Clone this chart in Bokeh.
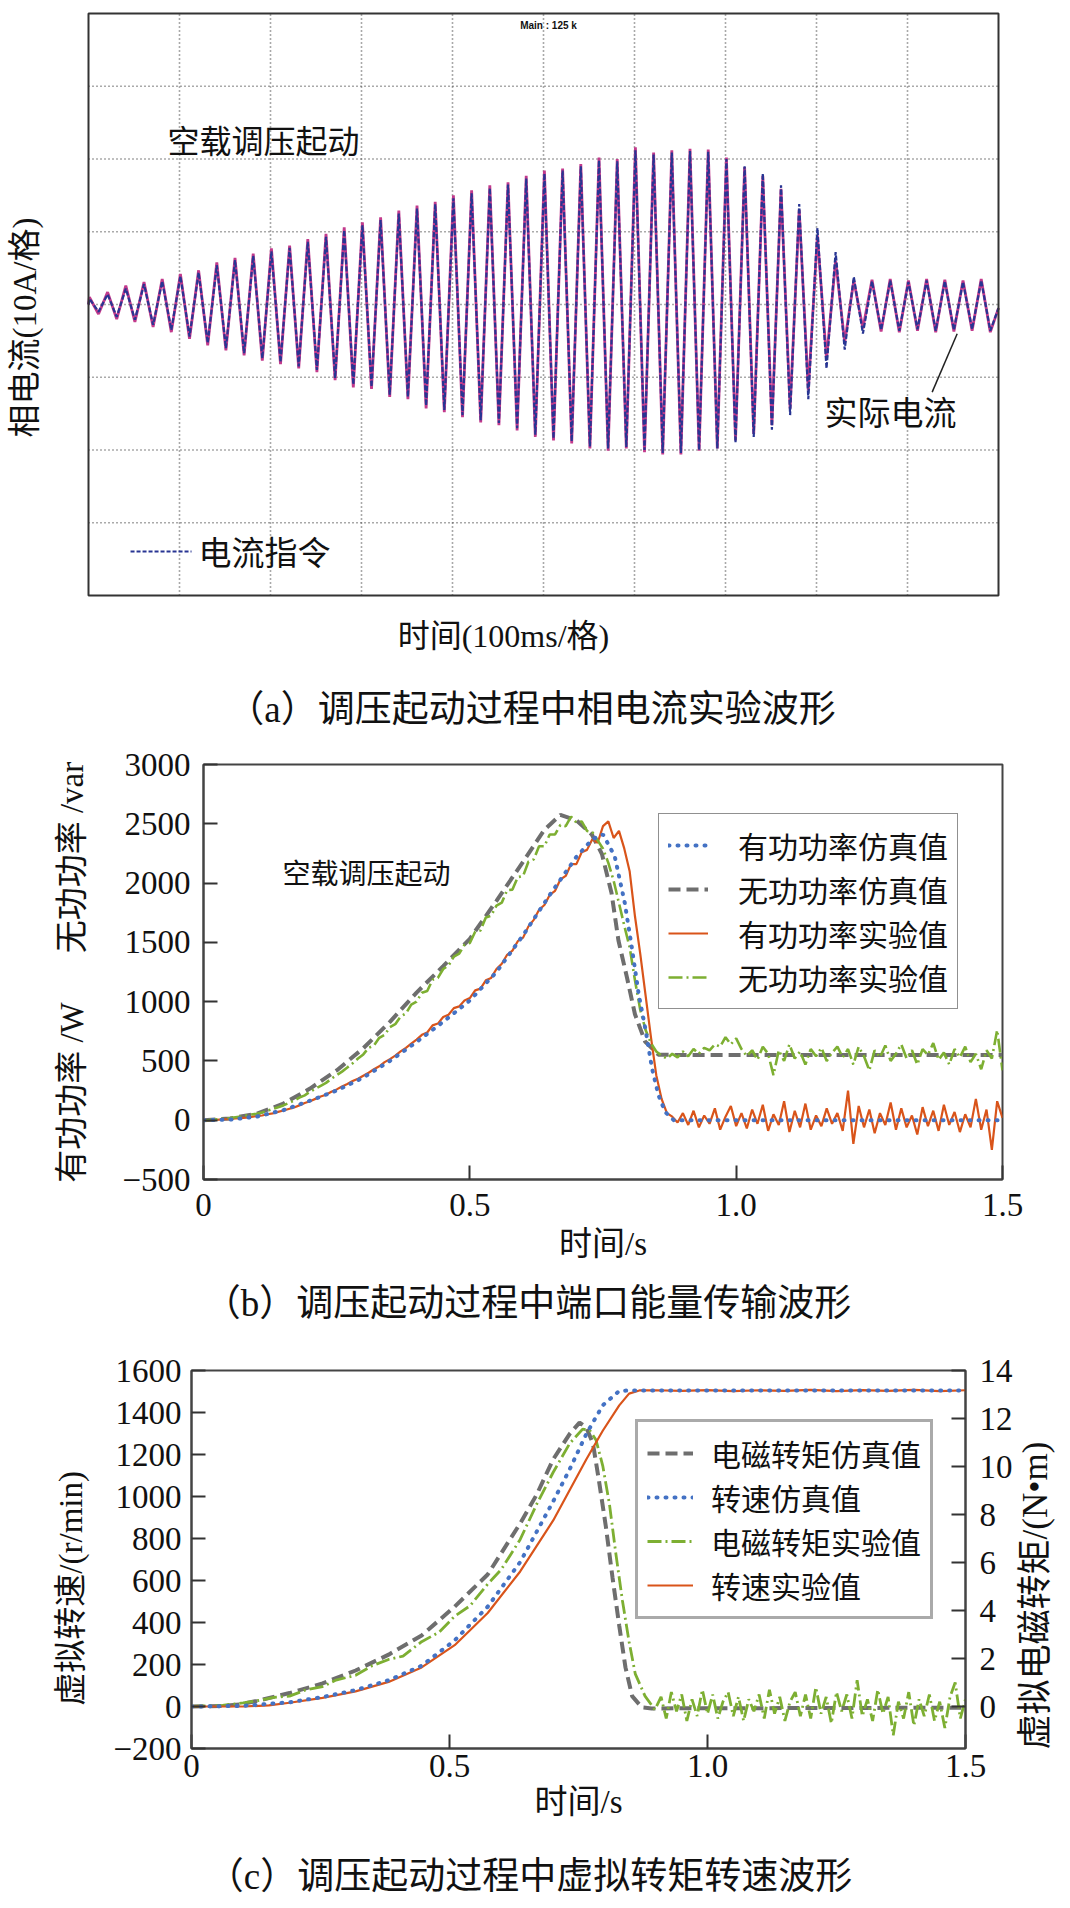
import math
from bokeh.plotting import figure
from bokeh.models import Range1d, LinearAxis, FixedTicker, Label, Legend, LegendItem, Arrow
from bokeh.layouts import row
from bokeh.embed import file_html
from bokeh.resources import INLINE

FONT = "Liberation Serif, Noto Sans CJK SC"

# ---------------- (a) phase current oscilloscope capture (units: divisions, 10 A/div) ----------------
a_peak_times_ms = list(range(1, 1000, 20))
a_trough_times_ms = list(range(11, 1000, 20))
a_peak_actual = [0.10, 0.17, 0.26, 0.31, 0.35, 0.42, 0.47, 0.58, 0.64, 0.70,
                 0.77, 0.81, 0.90, 0.97, 1.06, 1.13, 1.20, 1.29, 1.36, 1.41,
                 1.50, 1.57, 1.64, 1.68, 1.77, 1.84, 1.87, 1.93, 2.02, 2.00,
                 2.16, 2.09, 2.12, 2.14, 2.13, 2.02, 1.89, 1.77, 1.59, 1.30,
                 0.95, 0.60, 0.33, 0.34, 0.35, 0.33, 0.35, 0.34, 0.33, 0.35]
a_trough_actual = [-0.13, -0.20, -0.24, -0.31, -0.38, -0.47, -0.56, -0.63, -0.70, -0.77,
                   -0.82, -0.88, -0.93, -1.04, -1.14, -1.16, -1.27, -1.30, -1.43, -1.48,
                   -1.55, -1.62, -1.66, -1.73, -1.82, -1.87, -1.91, -1.98, -2.01, -1.98,
                   -2.03, -2.06, -2.06, -2.01, -1.98, -1.87, -1.78, -1.66, -1.43, -1.18,
                   -0.75, -0.52, -0.33, -0.37, -0.38, -0.36, -0.38, -0.37, -0.36, -0.38]
a_peak_cmd = [0.08, 0.14, 0.22, 0.28, 0.32, 0.39, 0.44, 0.54, 0.61, 0.67,
              0.73, 0.78, 0.86, 0.93, 1.02, 1.09, 1.16, 1.25, 1.32, 1.38,
              1.46, 1.53, 1.60, 1.65, 1.73, 1.80, 1.84, 1.90, 1.98, 1.97,
              2.12, 2.06, 2.09, 2.11, 2.10, 2.00, 1.90, 1.80, 1.64, 1.38,
              1.05, 0.72, 0.38, 0.32, 0.33, 0.31, 0.33, 0.32, 0.31, 0.33]
a_trough_cmd = [-0.10, -0.17, -0.21, -0.28, -0.35, -0.44, -0.53, -0.60, -0.67, -0.74,
                -0.79, -0.85, -0.90, -1.01, -1.10, -1.13, -1.24, -1.27, -1.39, -1.45,
                -1.52, -1.59, -1.63, -1.70, -1.79, -1.84, -1.88, -1.95, -1.98, -1.96,
                -2.00, -2.04, -2.04, -2.00, -1.98, -1.90, -1.82, -1.72, -1.52, -1.30,
                -0.88, -0.62, -0.40, -0.35, -0.36, -0.34, -0.36, -0.35, -0.34, -0.36]
a_edge_times_ms = [0, 1000]
a_edge_values = [0.0, -0.05]
a_screen_x_ms = [0, 1000]          # oscilloscope screen: 10 div x 100 ms
a_screen_y_div = [-4, 4]           # 8 div
a_grid_x_ms = [100, 200, 300, 400, 500, 600, 700, 800, 900]
a_grid_y_div = [-3, -2, -1, 0, 1, 2, 3]

# ---------------- (b) port power ----------------
b_t_sim = [0, 0.05, 0.1, 0.15, 0.2, 0.25, 0.3, 0.35, 0.4, 0.45, 0.5, 0.55, 0.6, 0.65, 0.7,
           0.73, 0.75, 0.772, 0.791, 0.804, 0.817, 0.83, 0.842, 0.854, 0.867, 0.883,
           0.95, 1.0, 1.1, 1.2, 1.3, 1.4, 1.5]
b_active_sim = [0, 5, 30, 85, 165, 250, 360, 500, 660, 830, 1010, 1250, 1560, 1900, 2220,
                2370, 2410, 2226, 1830, 1460, 1063, 760, 437, 213, 68, 0,
                0, 0, 0, 0, 0, 0, 0]
b_t_sim_q = [0, 0.05, 0.1, 0.15, 0.2, 0.25, 0.3, 0.35, 0.4, 0.45, 0.5, 0.55, 0.6, 0.64,
             0.67, 0.70, 0.729, 0.748, 0.766, 0.779, 0.795, 0.81, 0.829, 0.854, 0.9, 1.5]
b_reactive_sim = [0, 15, 54, 140, 267, 420, 607, 830, 1076, 1300, 1530, 1850, 2180, 2450,
                  2575, 2530, 2410, 2245, 1916, 1516, 1204, 894, 664, 553, 550, 550]
b_t_exp = [i / 100 for i in range(151)]
b_active_exp = [0, 0, 2, 5, 8, 10, 15, 18, 22, 28,
                35, 40, 50, 58, 70, 82, 95, 108, 125, 145,
                160, 180, 200, 215, 240, 260, 285, 305, 330, 350,
                375, 400, 430, 455, 490, 515, 545, 580, 610, 645,
                680, 720, 740, 800, 815, 870, 890, 945, 960, 1010,
                1030, 1095, 1110, 1180, 1200, 1275, 1320, 1395, 1430, 1510,
                1540, 1635, 1690, 1775, 1815, 1900, 1935, 2030, 2060, 2160,
                2160, 2260, 2280, 2370, 2340, 2480, 2520, 2380, 2440, 2290,
                2100, 1720, 1400, 1050, 700, 380, 180, 60, 30, -20,
                60, -40, 80, -60, 40, -30, 100, -80, 30, 120,
                -50, 60, -70, 90, -30, 130, -90, 50, -40, 160,
                -100, 80, -60, 140, -80, 40, -50, 100, -30, 60,
                -90, 250, -200, 120, -60, 90, -110, 60, -40, 150,
                -80, 100, -60, 40, -120, 110, -50, 80, -90, 130,
                -40, 70, -100, 50, -60, 180, -80, 90, -250, 160,
                20]
b_reactive_exp = [0, 2, 5, 10, 15, 18, 25, 32, 40, 48,
                  55, 65, 80, 95, 110, 125, 145, 165, 190, 210,
                  240, 265, 290, 315, 350, 380, 410, 445, 480, 520,
                  555, 610, 630, 695, 720, 785, 810, 875, 900, 975,
                  1000, 1075, 1090, 1185, 1200, 1275, 1305, 1380, 1405, 1480,
                  1495, 1590, 1600, 1710, 1725, 1810, 1835, 1940, 1945, 2050,
                  2060, 2180, 2200, 2310, 2310, 2410, 2410, 2490, 2480, 2560,
                  2510, 2520, 2440, 2430, 2360, 2290, 2170, 2020, 1830, 1640,
                  1460, 1180, 930, 760, 650, 580, 545, 520, 560, 530,
                  580, 540, 600, 560, 610, 590, 640, 620, 700, 640,
                  690, 600, 540, 590, 510, 620, 560, 380, 590, 500,
                  640, 520, 580, 470, 600, 540, 610, 500, 570, 620,
                  530, 600, 470, 620, 540, 420, 590, 530, 630, 500,
                  560, 640, 520, 590, 470, 600, 550, 650, 510, 570,
                  470, 600, 530, 620, 490, 560, 430, 590, 520, 760,
                  420]
b_yticks = [-500, 0, 500, 1000, 1500, 2000, 2500, 3000]
b_xticks = [0, 0.5, 1, 1.5]
b_legend_labels = ["有功功率仿真值", "无功功率仿真值", "有功功率实验值", "无功功率实验值"]

# ---------------- (c) virtual torque / speed ----------------
c_t_speed_sim = [0, 0.1, 0.19, 0.254, 0.318, 0.382, 0.446, 0.51, 0.574, 0.637, 0.701,
                 0.733, 0.765, 0.797, 0.829, 0.85, 1.5]
c_speed_sim = [0, 3, 20, 45, 78, 125, 194, 315, 475, 688, 977,
               1130, 1297, 1434, 1503, 1505, 1505]
c_t_speed_exp = [0, 0.1, 0.15, 0.19, 0.254, 0.318, 0.382, 0.446, 0.51, 0.574, 0.637,
                 0.701, 0.733, 0.765, 0.797, 0.829, 0.848, 0.868, 0.9, 0.95, 1.0, 1.05,
                 1.1, 1.15, 1.2, 1.25, 1.3, 1.35, 1.4, 1.45, 1.5]
c_speed_exp = [0, 0, 5, 18, 41, 72, 117, 186, 292, 445, 643,
               886, 1031, 1176, 1313, 1434, 1490, 1505, 1506, 1503, 1507, 1502,
               1506, 1503, 1508, 1502, 1507, 1503, 1508, 1502, 1506]
c_t_torque_sim = [0, 0.06, 0.094, 0.126, 0.19, 0.254, 0.318, 0.382, 0.446, 0.51, 0.574,
                  0.637, 0.669, 0.701, 0.733, 0.752, 0.765, 0.778, 0.79, 0.803, 0.816,
                  0.829, 0.841, 0.854, 0.873, 0.892, 1.5]
c_torque_sim = [0, 0.02, 0.09, 0.23, 0.56, 0.96, 1.5, 2.16, 2.96, 4.16, 5.5,
                7.63, 8.83, 10.3, 11.36, 11.83, 11.63, 10.96, 9.36, 7.5, 5.36,
                3.36, 1.63, 0.43, -0.04, -0.08, -0.05]
c_t_torque_exp = [0, 0.06, 0.1, 0.13, 0.16, 0.19, 0.22, 0.254, 0.28, 0.318, 0.35, 0.382,
                  0.41, 0.446, 0.48, 0.51, 0.54, 0.574, 0.6, 0.637, 0.669, 0.701, 0.733,
                  0.758, 0.772, 0.784, 0.797, 0.81, 0.822, 0.835, 0.848, 0.86, 0.879, 0.898,
                  0.91, 0.92, 0.93, 0.94, 0.95, 0.96, 0.97, 0.98, 0.99, 1.0,
                  1.01, 1.02, 1.03, 1.04, 1.05, 1.06, 1.07, 1.08, 1.09, 1.1,
                  1.11, 1.12, 1.13, 1.14, 1.15, 1.16, 1.17, 1.18, 1.19, 1.2,
                  1.21, 1.22, 1.23, 1.24, 1.25, 1.26, 1.27, 1.28, 1.29, 1.3,
                  1.31, 1.32, 1.33, 1.34, 1.35, 1.36, 1.37, 1.38, 1.39, 1.4,
                  1.41, 1.42, 1.43, 1.44, 1.45, 1.46, 1.47, 1.48, 1.49, 1.5]
c_torque_exp = [0, 0.05, 0.15, 0.25, 0.38, 0.43, 0.68, 0.83, 1.1, 1.3, 1.7, 1.96,
                2.1, 2.7, 3.1, 3.76, 4.2, 5.1, 5.7, 6.96, 8.43, 9.76, 10.96,
                11.56, 11.5, 11.1, 10.03, 8.43, 6.43, 4.43, 2.7, 1.36, 0.43, -0.13,
                0.4, -0.5, 0.6, -0.2, 0.5, -0.6, 0.3, -0.4, 0.7, -0.3,
                0.5, -0.5, 0.2, 0.6, -0.4, 0.4, -0.6, 0.3, -0.2, 0.5,
                -0.5, 0.7, -0.3, 0.4, -0.6, 0.2, 0.6, -0.4, 0.5, -0.5,
                0.8, -0.3, 0.4, -0.7, 0.6, -0.2, 0.5, -0.5, 1.1, -0.4,
                0.3, -0.6, 0.7, -0.3, 0.4, -1.2, 0.2, -0.5, 0.6, -0.8,
                0.3, -0.4, 0.5, -0.6, 0.2, -0.9, 0.4, 1.0, -0.5, 0.3]
c_speed_ticks = [-200, 0, 200, 400, 600, 800, 1000, 1200, 1400, 1600]
c_torque_ticks = [0, 2, 4, 6, 8, 10, 12, 14]
c_xticks = [0, 0.5, 1, 1.5]
c_legend_labels = ["电磁转矩仿真值", "转速仿真值", "电磁转矩实验值", "转速实验值"]

captions = ["（a）调压起动过程中相电流实验波形",
            "（b）调压起动过程中端口能量传输波形",
            "（c）调压起动过程中虚拟转矩转速波形"]

# colours / styles
C_BLUE = "#4472C4"
C_GRAY = "#6E6E6E"
C_ORANGE = "#D9541A"
C_GREEN = "#7DAF32"
TXT = "#111111"
PAGE_W = 1070


def style_axis(ax, standoff, label_standoff=10):
    ax.major_tick_in = 14
    ax.major_tick_out = 0
    ax.minor_tick_line_color = None
    ax.major_tick_line_width = 2
    ax.major_tick_line_color = "#333333"
    ax.axis_line_width = 2
    ax.axis_line_color = "#444444"
    ax.major_label_text_font = FONT
    ax.major_label_text_font_size = "33px"
    ax.major_label_text_color = TXT
    ax.major_label_standoff = standoff
    ax.axis_label_text_font = FONT
    ax.axis_label_text_font_size = "33px"
    ax.axis_label_text_font_style = "normal"
    ax.axis_label_text_color = TXT
    ax.axis_label_standoff = label_standoff


def style_legend(leg, size, glyph_w, standoff):
    leg.label_text_font = FONT
    leg.label_text_font_size = size
    leg.label_text_color = TXT
    leg.glyph_width = glyph_w
    leg.glyph_height = 30
    leg.label_height = 30
    leg.label_standoff = standoff
    leg.spacing = 0
    leg.padding = 9
    leg.margin = 0


def text_label(p, x, y, text, size="33px", align="center", angle=0.0, **kw):
    lab = Label(x=x, y=y, text=text, text_font=kw.pop("font", FONT), text_font_size=size,
                text_align=align, text_baseline="middle", angle=angle, text_color=TXT, **kw)
    p.add_layout(lab)
    return lab


def blank_figure(width, height, x_range, y_range, **borders):
    p = figure(frame_width=width, frame_height=height, x_range=x_range, y_range=y_range,
               x_axis_location=None, y_axis_location=None,
               output_backend="svg", toolbar_location=None, **borders)
    p.grid.visible = False
    p.outline_line_color = None
    return p


# ======================= figure (a): full-canvas frame, screen drawn in ms / div =======================
A_H = 735
pa = blank_figure(PAGE_W, A_H, Range1d(-96.7033, 1079.1209), Range1d(-5.9244, 4.17869), min_border=0)

pa.segment(x0=a_grid_x_ms, y0=[a_screen_y_div[0]] * len(a_grid_x_ms),
           x1=a_grid_x_ms, y1=[a_screen_y_div[1]] * len(a_grid_x_ms),
           line_color="#555555", line_width=1.6, line_dash="1 3")
pa.segment(x0=[a_screen_x_ms[0]] * len(a_grid_y_div), y0=a_grid_y_div,
           x1=[a_screen_x_ms[1]] * len(a_grid_y_div), y1=a_grid_y_div,
           line_color="#555555", line_width=1.6, line_dash="1 3")

a_t = [a_edge_times_ms[0]]
a_act = [a_edge_values[0]]
a_cmd = [a_edge_values[0]]
for k in range(len(a_peak_times_ms)):
    a_t += [a_peak_times_ms[k], a_trough_times_ms[k]]
    a_act += [a_peak_actual[k], a_trough_actual[k]]
    a_cmd += [a_peak_cmd[k], a_trough_cmd[k]]
a_t.append(a_edge_times_ms[1])
a_act.append(a_edge_values[1])
a_cmd.append(a_edge_values[1])

pa.line(a_t, a_act, line_color="#C23A8C", line_width=2.8)
pa.line(a_t, a_cmd, line_color="#283593", line_width=2.2, line_dash="5 2")

pa.quad(left=a_screen_x_ms[0], right=a_screen_x_ms[1], bottom=a_screen_y_div[0], top=a_screen_y_div[1],
        fill_color=None, line_color="#333333", line_width=2)

text_label(pa, 505.5, 3.835, "Main : 125 k", size="10px", font="Liberation Sans", text_font_style="bold")
text_label(pa, 192.3, 2.227, "空载调压起动", size="32px")
text_label(pa, 881.3, -1.512, "实际电流", size="33px")
pa.add_layout(Arrow(end=None, x_start=927.1, y_start=-1.205, x_end=954.6, y_end=-0.403,
                    line_color="#222222", line_width=1.5))
pa.add_layout(Arrow(end=None, x_start=46.2, y_start=-3.395, x_end=113.2, y_end=-3.395,
                    line_color="#283593", line_width=2.0, line_dash="4 2"))
text_label(pa, 120.9, -3.423, "电流指令", size="33px", align="left")
text_label(pa, -70.3, -0.316, "相电流(10A/格)", size="33px", angle=math.pi / 2)
text_label(pa, 456.0, -4.55, "时间(100ms/格)", size="32px")
text_label(pa, 486.8, -5.567, captions[0], size="37px")

# ======================= figure (b) =======================
pb = figure(frame_width=799, frame_height=415, x_range=Range1d(0, 1.5), y_range=Range1d(-500, 3000),
            min_border_left=203, min_border_right=68, min_border_top=29, min_border_bottom=93,
            output_backend="svg", toolbar_location=None)
pb.grid.visible = False
pb.outline_line_color = "#444444"
pb.outline_line_width = 2
pb.yaxis.ticker = FixedTicker(ticks=b_yticks)
pb.xaxis.ticker = FixedTicker(ticks=b_xticks)
pb.xaxis.major_label_overrides = {0: "0", 0.5: "0.5", 1: "1.0", 1.5: "1.5"}
style_axis(pb.xaxis, 14, 7)
style_axis(pb.yaxis, 13, 29)
pb.xaxis.axis_label = "时间/s"
pb.yaxis.axis_label = "有功功率 /W\u3000\u00a0\u00a0无功功率 /var"

rb_q = pb.line(b_t_sim_q, b_reactive_sim, line_color=C_GRAY, line_width=4, line_dash="12 6")
rb_po = pb.line(b_t_exp, b_active_exp, line_color=C_ORANGE, line_width=2.2)
rb_qg = pb.line(b_t_exp, b_reactive_exp, line_color=C_GREEN, line_width=2.6, line_dash="14 4 2 4")
rb_p = pb.line(b_t_sim, b_active_sim, line_color=C_BLUE, line_width=4, line_dash="1 8", line_cap="round")

leg_b = Legend(items=[LegendItem(label=b_legend_labels[0], renderers=[rb_p]),
                      LegendItem(label=b_legend_labels[1], renderers=[rb_q]),
                      LegendItem(label=b_legend_labels[2], renderers=[rb_po]),
                      LegendItem(label=b_legend_labels[3], renderers=[rb_qg])],
               location=(455, 170))
style_legend(leg_b, "30px", 40, 30)
leg_b.border_line_color = "#222222"
leg_b.border_line_width = 1.5
pb.add_layout(leg_b)

text_label(pb, 0.306, 2072, "空载调压起动", size="28px")

cap_b = blank_figure(PAGE_W, 68, Range1d(0, PAGE_W), Range1d(0, 68), min_border=0)
text_label(cap_b, 527, 37, captions[1], size="37px")

# ======================= figure (c) =======================
C_TOP, C_FH, C_BOT = 30, 378, 82
pc = figure(frame_width=774, frame_height=C_FH, x_range=Range1d(0, 1.5), y_range=Range1d(-200, 1600),
            min_border_left=191, min_border_right=50, min_border_top=C_TOP, min_border_bottom=C_BOT,
            output_backend="svg", toolbar_location=None)
pc.extra_y_ranges = {"torque": Range1d(-1.75, 14)}
pc.grid.visible = False
pc.outline_line_color = "#444444"
pc.outline_line_width = 2
pc.yaxis.ticker = FixedTicker(ticks=c_speed_ticks)
pc.xaxis.ticker = FixedTicker(ticks=c_xticks)
pc.xaxis.major_label_overrides = {0: "0", 0.5: "0.5", 1: "1.0", 1.5: "1.5"}
style_axis(pc.xaxis, 6, 4)
style_axis(pc.yaxis, 10, 21)
pc.xaxis.axis_label = "时间/s"
pc.yaxis.axis_label = "虚拟转速/(r/min)" + "\u00a0" * 7
ax_r = LinearAxis(y_range_name="torque", ticker=FixedTicker(ticks=c_torque_ticks))
style_axis(ax_r, 14)
pc.add_layout(ax_r, "right")

rc_ts = pc.line(c_t_torque_sim, c_torque_sim, y_range_name="torque", line_color=C_GRAY,
                line_width=4, line_dash="12 6")
rc_te = pc.line(c_t_torque_exp, c_torque_exp, y_range_name="torque", line_color=C_GREEN,
                line_width=2.8, line_dash="14 4 2 4")
rc_se = pc.line(c_t_speed_exp, c_speed_exp, line_color=C_ORANGE, line_width=2.2)
rc_ss = pc.line(c_t_speed_sim, c_speed_sim, line_color=C_BLUE, line_width=4, line_dash="1 8",
                line_cap="round")

leg_c = Legend(items=[LegendItem(label=c_legend_labels[0], renderers=[rc_ts]),
                      LegendItem(label=c_legend_labels[1], renderers=[rc_ss]),
                      LegendItem(label=c_legend_labels[2], renderers=[rc_te]),
                      LegendItem(label=c_legend_labels[3], renderers=[rc_se])],
               location=(444, 129))
style_legend(leg_c, "30px", 46, 18)
leg_c.border_line_color = "#555555"
leg_c.border_line_width = 3
pc.add_layout(leg_c)

# right-hand axis title, drawn beside the plot in its own narrow panel (reads bottom to top)
side_c = blank_figure(55, C_FH, Range1d(0, 55), Range1d(0, C_FH),
                      min_border_left=0, min_border_right=0, min_border_top=C_TOP, min_border_bottom=C_BOT)
text_label(side_c, 20, 153, "虚拟电磁转矩/(N•m)", size="35px", angle=math.pi / 2)

cap_c = blank_figure(PAGE_W, 76, Range1d(0, PAGE_W), Range1d(0, 76), min_border=0)
text_label(cap_c, 529, 30, captions[2], size="37px")

open("out.html", "w").write(file_html([pa, pb, cap_b, row(pc, side_c), cap_c], INLINE, title="调压起动"))
